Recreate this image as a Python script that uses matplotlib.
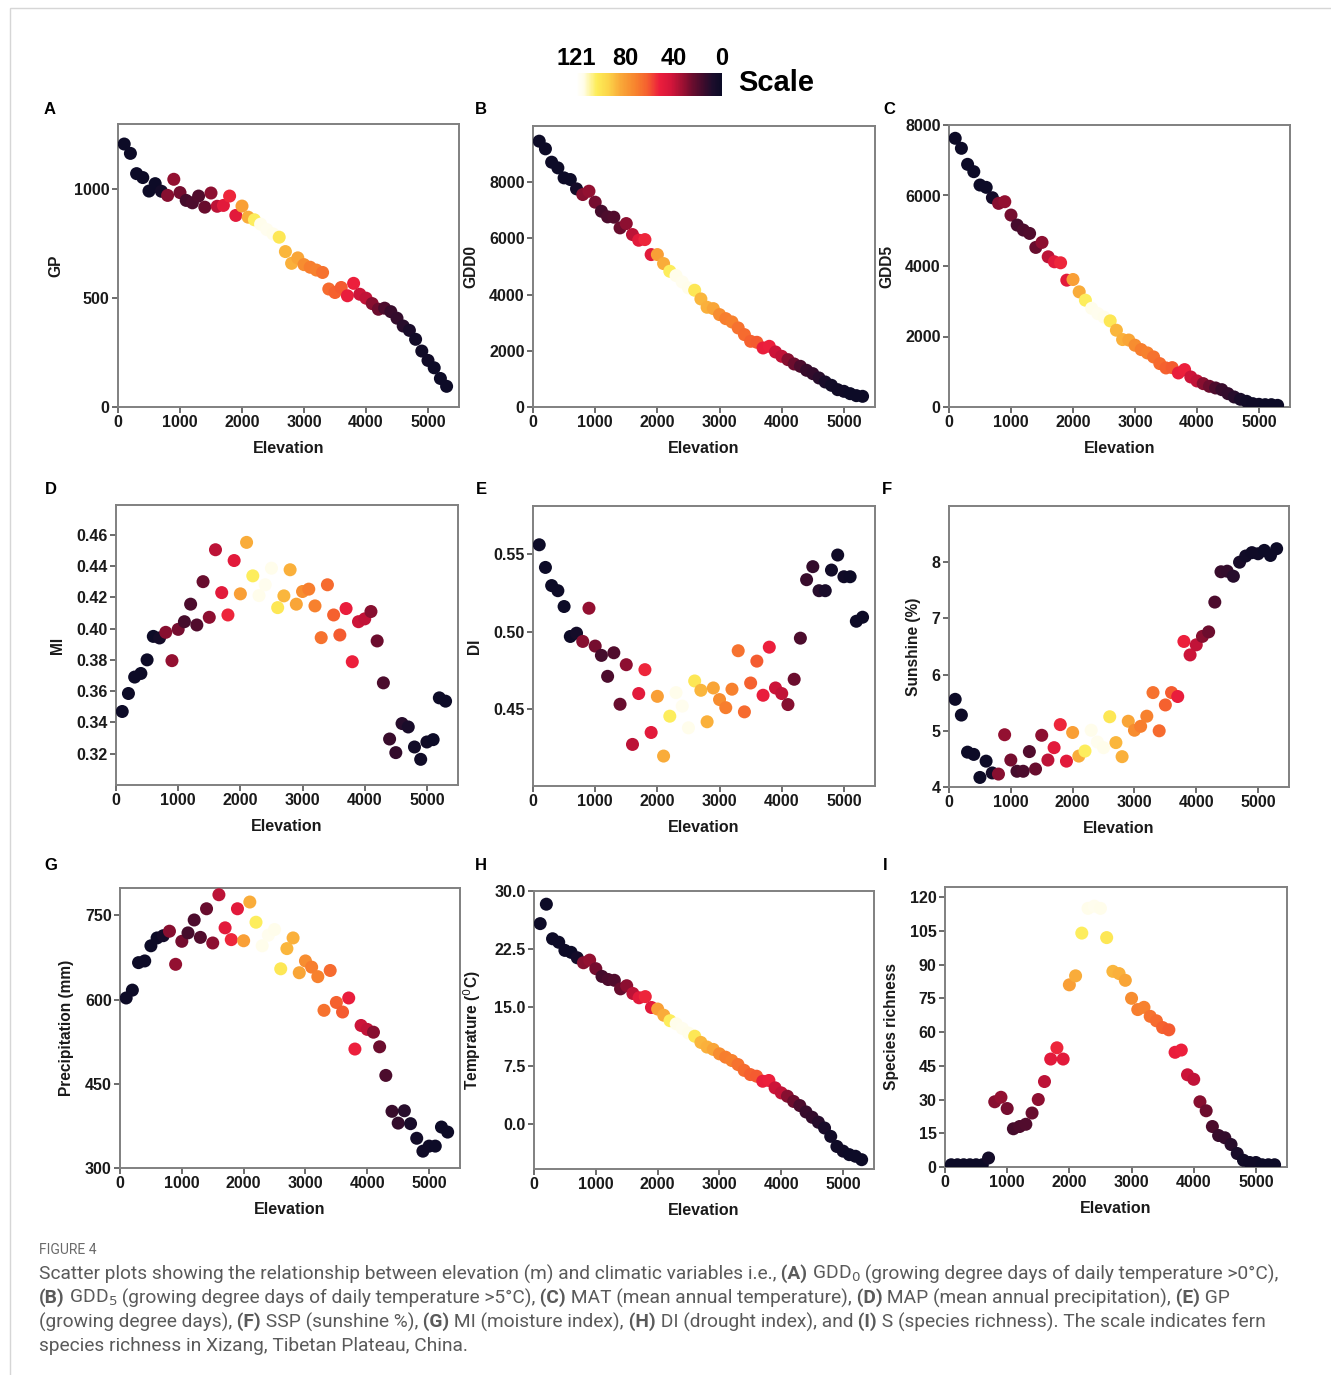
import matplotlib
matplotlib.use("Agg")
import numpy as np
import matplotlib.pyplot as plt
from matplotlib.colors import LinearSegmentedColormap, Normalize
from matplotlib.cm import ScalarMappable
from matplotlib.patches import Rectangle

plt.rcParams['font.family'] = ['Liberation Sans', 'DejaVu Sans']

# ---- data ----
elevation = [100, 200, 300, 400, 500, 600, 700, 800, 900, 1000,
             1100, 1200, 1300, 1400, 1500, 1600, 1700, 1800, 1900, 2000,
             2100, 2200, 2300, 2400, 2500, 2600, 2700, 2800, 2900, 3000,
             3100, 3200, 3300, 3400, 3500, 3600, 3700, 3800, 3900, 4000,
             4100, 4200, 4300, 4400, 4500, 4600, 4700, 4800, 4900, 5000,
             5100, 5200, 5300]

richness = [1, 1, 1, 1, 1, 1, 4, 29, 31, 26,
            17, 18, 19, 24, 30, 38, 48, 53, 48, 81,
            85, 104, 115, 116, 115, 102, 87, 86, 83, 75,
            70, 71, 67, 65, 62, 61, 51, 52, 41, 39,
            29, 25, 18, 14, 13, 10, 6, 3, 2, 2,
            1, 1, 1]

gp = [1208, 1165, 1072, 1054, 992, 1026, 991, 972, 1046, 985,
      949, 938, 969, 918, 983, 922, 926, 969, 880, 923,
      872, 860, 840, 815, 795, 780, 714, 660, 685, 654,
      642, 629, 618, 542, 526, 549, 511, 568, 518, 500,
      475, 449, 454, 438, 408, 372, 352, 311, 257, 214,
      180, 131, 95]

gdd0 = [9460, 9187, 8712, 8510, 8154, 8095, 7763, 7561, 7680, 7288,
        6967, 6766, 6754, 6374, 6528, 6137, 5935, 5958, 5424, 5424,
        5104, 4831, 4677, 4450, 4237, 4154, 3846, 3549, 3501, 3288,
        3145, 3027, 2813, 2576, 2338, 2303, 2101, 2160, 1958, 1804,
        1685, 1531, 1448, 1306, 1187, 1033, 890, 772, 617, 558,
        475, 404, 380]

gdd5 = [7623, 7339, 6884, 6676, 6297, 6231, 5937, 5777, 5824, 5445,
        5161, 5019, 4924, 4527, 4669, 4261, 4119, 4091, 3598, 3617,
        3267, 3030, 2800, 2650, 2550, 2443, 2178, 1913, 1900, 1752,
        1629, 1534, 1420, 1231, 1108, 1117, 966, 1061, 852, 739,
        663, 587, 540, 492, 379, 284, 218, 161, 95, 76,
        66, 66, 47]

mi = [0.347, 0.3585, 0.369, 0.3713, 0.380, 0.395, 0.394, 0.3976, 0.3795, 0.3995,
      0.4044, 0.4156, 0.4023, 0.430, 0.4072, 0.4504, 0.423, 0.4087, 0.4435, 0.4222,
      0.4551, 0.4337, 0.4211, 0.428, 0.4386, 0.4134, 0.4209, 0.4376, 0.4156, 0.4237,
      0.4252, 0.4145, 0.3942, 0.428, 0.4087, 0.3959, 0.4128, 0.3788, 0.4044, 0.4062,
      0.4109, 0.3921, 0.3653, 0.3294, 0.3207, 0.3393, 0.3371, 0.3243, 0.3164, 0.3275,
      0.329, 0.3557, 0.3536]

di = [0.556, 0.5414, 0.5297, 0.5264, 0.5162, 0.4969, 0.4990, 0.4937, 0.5151, 0.4907,
      0.4847, 0.4712, 0.4864, 0.4532, 0.4787, 0.4273, 0.4601, 0.4755, 0.435, 0.4583,
      0.4198, 0.4455, 0.4607, 0.452, 0.438, 0.4682, 0.4622, 0.4419, 0.4637, 0.4562,
      0.451, 0.4629, 0.4877, 0.4483, 0.4669, 0.481, 0.459, 0.490, 0.4637, 0.4601,
      0.453, 0.4693, 0.4958, 0.5335, 0.5419, 0.5264, 0.5264, 0.5397, 0.5494, 0.5354,
      0.5354, 0.5067, 0.5093]

sunshine = [5.56, 5.28, 4.62, 4.58, 4.17, 4.46, 4.25, 4.23, 4.93, 4.48,
            4.28, 4.28, 4.63, 4.32, 4.92, 4.48, 4.70, 5.11, 4.46, 4.97,
            4.55, 4.64, 5.01, 4.80, 4.70, 5.25, 4.79, 4.54, 5.17, 5.01,
            5.08, 5.26, 5.68, 5.00, 5.46, 5.68, 5.61, 6.59, 6.35, 6.53,
            6.68, 6.76, 7.29, 7.83, 7.84, 7.75, 8.00, 8.11, 8.17, 8.15,
            8.21, 8.12, 8.24]

precip = [603, 617, 666, 669, 696, 710, 714, 722, 663, 704,
          719, 742, 711, 762, 701, 787, 728, 707, 762, 705,
          774, 738, 696, 715, 725, 655, 691, 710, 648, 669,
          658, 641, 581, 652, 595, 578, 603, 512, 554, 547,
          542, 516, 465, 401, 380, 402, 379, 353, 330, 339,
          339, 373, 364]

temp = [25.8, 28.3, 23.85, 23.4, 22.35, 22.1, 21.4, 20.76, 21.1, 20.0,
        19.0, 18.6, 18.5, 17.4, 17.8, 16.8, 16.25, 16.4, 15.0, 14.8,
        14.0, 13.3, 12.9, 12.3, 11.7, 11.3, 10.5, 9.9, 9.6, 9.03,
        8.6, 8.17, 7.65, 6.9, 6.36, 6.15, 5.5, 5.6, 4.65, 4.0,
        3.57, 2.9, 2.37, 1.55, 0.86, 0.22, -0.52, -1.6, -2.9, -3.5,
        -3.95, -4.16, -4.6]

scale_ticks = [121, 80, 40, 0]
x_ticks = [0, 1000, 2000, 3000, 4000, 5000]

# ---- colour scale ----
vmax = 121
cmap = LinearSegmentedColormap.from_list("fern", [
    (0 / vmax, '#0b0b26'), (8 / vmax, '#1e0d2c'), (15 / vmax, '#3d0c2c'),
    (25 / vmax, '#6e0d2e'), (32 / vmax, '#9a1032'), (42 / vmax, '#d3153a'),
    (52 / vmax, '#ec1e3c'), (62 / vmax, '#f5602f'), (72 / vmax, '#f7842e'),
    (84 / vmax, '#f9a838'), (95 / vmax, '#fcd64a'), (104 / vmax, '#fdec58'),
    (115 / vmax, '#fffdea'), (1.0, '#ffffff')])
norm = Normalize(0, vmax)

W, H = 1331, 1375
fig = plt.figure(figsize=(W / 100, H / 100), dpi=100)


def rect(l, t, r, b):
    return [l / W, 1 - b / H, (r - l) / W, (b - t) / H]


# letter, values, y label, ylim, yticks, tick format, axes box (px), letter position (px)
panels = [
    ('A', gp, 'GP', (0, 1300), [0, 500, 1000], None, rect(118, 124, 459, 407), (50, 109)),
    ('B', gdd0, 'GDD0', (0, 10000), [0, 2000, 4000, 6000, 8000], None, rect(533, 126, 875, 407), (481, 109)),
    ('C', gdd5, 'GDD5', (0, 8000), [0, 2000, 4000, 6000, 8000], None, rect(949, 125, 1290, 407), (889, 109)),
    ('D', mi, 'MI', (0.30, 0.479), [0.32, 0.34, 0.36, 0.38, 0.40, 0.42, 0.44, 0.46], '%.2f',
     rect(116, 505, 458, 785), (51, 489)),
    ('E', di, 'DI', (0.4005, 0.581), [0.45, 0.50, 0.55], '%.2f', rect(533, 506, 875, 786), (481, 489)),
    ('F', sunshine, 'Sunshine (%)', (4, 9.0), [4, 5, 6, 7, 8], None, rect(949, 506, 1289, 787), (887, 489)),
    ('G', precip, 'Precipitation (mm)', (300, 799), [300, 450, 600, 750], None,
     rect(120, 888, 460, 1168), (51, 866)),
    ('H', temp, 'Temprature ($^{0}$C)', (-5.8, 30), [0, 7.5, 15, 22.5, 30], '%.1f',
     rect(534, 891, 874, 1169), (481, 866)),
    ('I', richness, 'Species richness', (0, 124.5), [0, 15, 30, 45, 60, 75, 90, 105, 120], None,
     rect(945, 887, 1287, 1167), (885, 866)),
]

for letter, yv, ylab, ylim, yt, fmt, pos, lpos in panels:
    ax = fig.add_axes(pos)
    ax.scatter(elevation, yv, c=richness, cmap=cmap, norm=norm, s=88,
               edgecolors='none', zorder=3)
    ax.set_xlim(0, 5500)
    ax.set_ylim(*ylim)
    ax.set_xticks(x_ticks)
    ax.set_yticks(yt)
    if fmt:
        ax.set_yticklabels([fmt % v for v in yt])
    for sp in ax.spines.values():
        sp.set_color('#808080')
        sp.set_linewidth(1.4)
    ax.tick_params(length=4, width=1.1, color='#444444', pad=2,
                   labelsize=11.5, labelcolor='#1a1a1a')
    for lab in ax.get_xticklabels() + ax.get_yticklabels():
        lab.set_fontweight('bold')
    ax.set_xlabel('Elevation', fontsize=11.5, fontweight='bold', color='#1a1a1a', labelpad=8)
    ax.set_ylabel(ylab, fontsize=11.2, fontweight='bold', color='#1a1a1a', labelpad=8)
    fig.text(lpos[0] / W, 1 - lpos[1] / H, letter, fontsize=12, fontweight='bold',
             va='center', ha='center')

# ---- colour scale bar ----
cax = fig.add_axes(rect(576, 73, 722, 96))
cb = fig.colorbar(ScalarMappable(norm=norm, cmap=cmap), cax=cax, orientation='horizontal')
cax.invert_xaxis()
cb.set_ticks(scale_ticks)
cb.set_ticklabels([str(t) for t in scale_ticks])
cb.outline.set_visible(False)
cax.xaxis.set_ticks_position('top')
cax.tick_params(length=0, pad=2, labelsize=17)
for lab in cax.get_xticklabels():
    lab.set_fontweight('bold')
fig.text(738 / W, 1 - 83 / H, 'Scale', fontsize=21, fontweight='bold', va='center', ha='left')

# ---- frame ----
fig.patches.append(Rectangle((10 / W, -0.05), 1.1, 1 - 8 / H + 0.05, transform=fig.transFigure,
                             fill=False, edgecolor='#d6d6d6', linewidth=1.0))

# ---- caption ----
fig.text(39 / W, 1 - 1250 / H, 'FIGURE 4', fontsize=10, color='#6a6a6a', va='center',
         family='Roboto')

renderer = fig.canvas.get_renderer()


def rich_line(y, parts):
    x = 39 / W
    for s, bold in parts:
        t = fig.text(x, 1 - y / H, s, fontsize=13.8, color='#5a5a5a', va='center', family='Roboto',
                     fontweight='bold' if bold else 'normal')
        bb = t.get_window_extent(renderer)
        x += bb.width / W


rich_line(1274, [("Scatter plots showing the relationship between elevation (m) and climatic variables i.e.,", False),
                 (" (A)", True), (" GDD$_0$", False),
                 (" (growing degree days of daily temperature >0\u00b0C),", False)])
rich_line(1298, [("(B)", True), (" GDD$_5$", False),
                 (" (growing degree days of daily temperature >5\u00b0C),", False),
                 (" (C)", True), (" MAT (mean annual temperature),", False),
                 (" (D)", True), (" MAP (mean annual precipitation),", False),
                 (" (E)", True), (" GP", False)])
rich_line(1322, [("(growing degree days),", False), (" (F)", True), (" SSP (sunshine %),", False),
                 (" (G)", True), (" MI (moisture index),", False), (" (H)", True),
                 (" DI (drought index), and", False), (" (I)", True),
                 (" S (species richness). The scale indicates fern", False)])
rich_line(1346, [("species richness in Xizang, Tibetan Plateau, China.", False)])

fig.savefig('out.png', dpi=100)
